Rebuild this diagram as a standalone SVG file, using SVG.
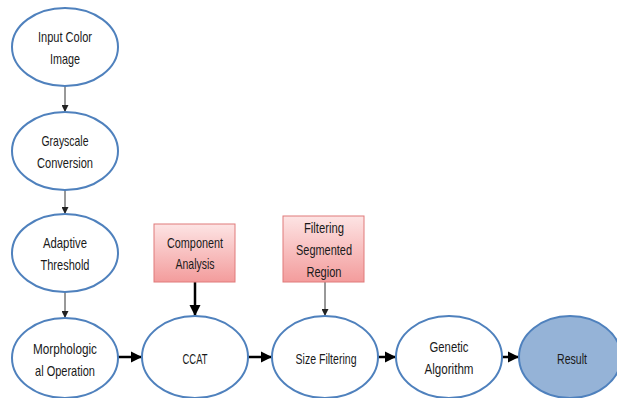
<svg xmlns="http://www.w3.org/2000/svg" width="617" height="398" viewBox="0 0 617 398">
<defs>
<linearGradient id="pink" x1="0" y1="0" x2="0" y2="1">
<stop offset="0" stop-color="#fde4e4"/>
<stop offset="1" stop-color="#f39c9c"/>
</linearGradient>
<marker id="ah" viewBox="0 0 10 10" refX="10" refY="5" markerWidth="7" markerHeight="7" markerUnits="userSpaceOnUse" orient="auto">
<path d="M0,0 L10,5 L0,10 z" fill="#222"/>
</marker>
<marker id="ahb" viewBox="0 0 10 10" refX="10" refY="5" markerWidth="4.5" markerHeight="4.5" orient="auto">
<path d="M0,0 L10,5 L0,10 z" fill="#000"/>
</marker>
</defs>
<style>
.e{fill:#fff;stroke:#4f81bd;stroke-width:2}
.r{fill:url(#pink);stroke:#e07a7a;stroke-width:1}
text{font-family:"Liberation Sans",Arial,sans-serif;font-size:15px;fill:#1a1a1a;text-anchor:middle}
.thin{stroke:#333;stroke-width:1;fill:none;marker-end:url(#ah)}
.thick{stroke:#000;stroke-width:2.5;fill:none;marker-end:url(#ahb)}
</style>
<rect width="617" height="398" fill="#fff"/>
<g id="connectors">
<line class="thin" x1="65" y1="86" x2="65" y2="112"/>
<line class="thin" x1="65" y1="190" x2="65" y2="214"/>
<line class="thin" x1="65" y1="292" x2="65" y2="318"/>
<line class="thick" x1="118" y1="357" x2="142" y2="357"/>
<line class="thick" x1="248" y1="357" x2="272" y2="357"/>
<line class="thick" x1="378" y1="357" x2="396" y2="357"/>
<line class="thick" x1="502" y1="357" x2="519" y2="357"/>
<line class="thick" x1="195" y1="282" x2="195" y2="316"/>
<line class="thin" x1="325" y1="282" x2="325" y2="316"/>
</g>
<g id="input"><ellipse class="e" cx="65" cy="47" rx="53" ry="39"/><text x="65" y="42" textLength="54" lengthAdjust="spacingAndGlyphs">Input Color</text><text x="65" y="64" textLength="30" lengthAdjust="spacingAndGlyphs">Image</text></g>
<g id="grayscale"><ellipse class="e" cx="65" cy="151" rx="53" ry="39"/><text x="65" y="146" textLength="47" lengthAdjust="spacingAndGlyphs">Grayscale</text><text x="65" y="168" textLength="56" lengthAdjust="spacingAndGlyphs">Conversion</text></g>
<g id="adaptive"><ellipse class="e" cx="65" cy="253" rx="53" ry="39"/><text x="65" y="248" textLength="44" lengthAdjust="spacingAndGlyphs">Adaptive</text><text x="65" y="270" textLength="49" lengthAdjust="spacingAndGlyphs">Threshold</text></g>
<g id="morph"><ellipse class="e" cx="65" cy="358" rx="53" ry="40"/><text x="65" y="354" textLength="64" lengthAdjust="spacingAndGlyphs">Morphologic</text><text x="65" y="376" textLength="60" lengthAdjust="spacingAndGlyphs">al Operation</text></g>
<g id="ccat"><ellipse class="e" cx="195" cy="357" rx="53" ry="41"/><text x="195" y="364" textLength="25" lengthAdjust="spacingAndGlyphs">CCAT</text></g>
<g id="size"><ellipse class="e" cx="325" cy="357" rx="53" ry="41"/><text x="326" y="364" textLength="61" lengthAdjust="spacingAndGlyphs">Size Filtering</text></g>
<g id="genetic"><ellipse class="e" cx="449" cy="357" rx="53" ry="41"/><text x="449" y="352" textLength="39" lengthAdjust="spacingAndGlyphs">Genetic</text><text x="449" y="374" textLength="49" lengthAdjust="spacingAndGlyphs">Algorithm</text></g>
<g id="result"><ellipse cx="570" cy="357" rx="51" ry="41" fill="#95b3d7" stroke="#4f81bd" stroke-width="2"/><text x="572" y="364" textLength="30" lengthAdjust="spacingAndGlyphs">Result</text></g>
<g id="component"><rect class="r" x="154" y="224" width="81" height="58"/><text x="195" y="248" textLength="56" lengthAdjust="spacingAndGlyphs">Component</text><text x="195" y="269" textLength="39" lengthAdjust="spacingAndGlyphs">Analysis</text></g>
<g id="filtering"><rect class="r" x="283" y="216" width="81" height="66"/><text x="324" y="233" textLength="40" lengthAdjust="spacingAndGlyphs">Filtering</text><text x="324" y="255" textLength="56" lengthAdjust="spacingAndGlyphs">Segmented</text><text x="324" y="277" textLength="35" lengthAdjust="spacingAndGlyphs">Region</text></g>
</svg>
